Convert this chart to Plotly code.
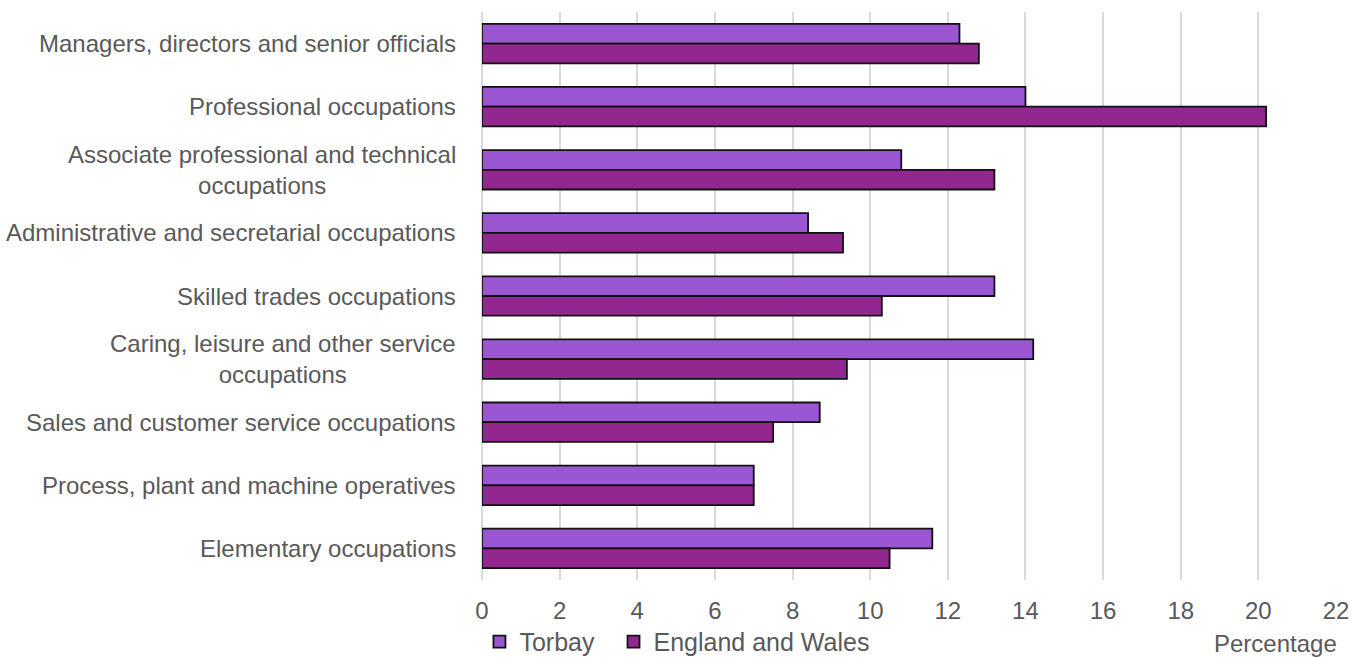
import plotly.graph_objects as go

# Occupation groups, top to bottom
categories = [
    "Managers, directors and senior officials",
    "Professional occupations",
    "Associate professional and technical<br>occupations",
    "Administrative and secretarial occupations",
    "Skilled trades occupations",
    "Caring, leisure and other service<br>occupations",
    "Sales and customer service occupations",
    "Process, plant and machine operatives",
    "Elementary occupations",
]

# Share of usual residents in employment (%)
torbay = [12.3, 14.0, 10.8, 8.4, 13.2, 14.2, 8.7, 7.0, 11.6]
england_wales = [12.8, 20.2, 13.2, 9.3, 10.3, 9.4, 7.5, 7.0, 10.5]

x_ticks = list(range(0, 23, 2))

FONT = "Liberation Sans, Arial, sans-serif"
TEXT = "#595959"
GRID = "#d9d9d9"

fig = go.Figure()
fig.add_trace(go.Bar(
    name="Torbay", y=categories, x=torbay, orientation="h",
    marker=dict(color="#9b56d3", line=dict(color="#111111", width=1.8)),
    legend="legend",
))
fig.add_trace(go.Bar(
    name="England and Wales", y=categories, x=england_wales, orientation="h",
    marker=dict(color="#92278f", line=dict(color="#111111", width=1.8)),
    legend="legend2",
))

# Category labels: right-aligned block, lines centred within it
for cat in categories:
    fig.add_annotation(
        x=0, xref="paper", xanchor="right", xshift=-24,
        y=cat, yref="y", yanchor="middle",
        text=cat, showarrow=False, align="center",
        font=dict(family=FONT, size=24, color=TEXT),
    )

fig.add_annotation(
    x=1, xref="paper", xanchor="right", xshift=3,
    y=-0.111, yref="paper", yanchor="middle",
    text="Percentage", showarrow=False,
    font=dict(family=FONT, size=24, color=TEXT),
)

legend_style = dict(
    orientation="h", xanchor="left", y=-0.109, yanchor="middle",
    font=dict(family=FONT, size=25, color=TEXT),
    bgcolor="rgba(0,0,0,0)", itemclick=False,
)

fig.update_layout(
    width=1354, height=657,
    margin=dict(l=482, r=18, t=12, b=77, autoexpand=False),
    paper_bgcolor="white", plot_bgcolor="white",
    barmode="group", bargap=0.375, bargroupgap=0,
    font=dict(family=FONT, size=24, color=TEXT),
    showlegend=True,
    legend=dict(x=-0.003, **legend_style),
    legend2=dict(x=0.154, **legend_style),
    xaxis=dict(
        range=[0, 22], tickvals=x_ticks, ticktext=[str(v) for v in x_ticks],
        showgrid=True, gridcolor=GRID, gridwidth=1.5,
        zeroline=True, zerolinecolor=GRID, zerolinewidth=1.5,
        showline=False, ticks="", ticklabelstandoff=14,
        tickfont=dict(family=FONT, size=24, color=TEXT),
    ),
    yaxis=dict(
        type="category", categoryorder="array", categoryarray=categories,
        range=[8.5, -0.5], showticklabels=False, showgrid=False,
        zeroline=False, showline=False, ticks="",
    ),
)

fig.write_html("out.html")
